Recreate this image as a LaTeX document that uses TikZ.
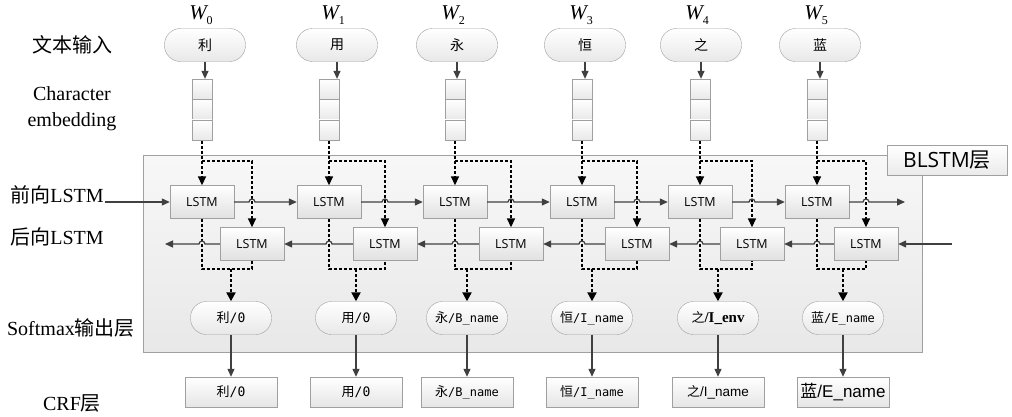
\documentclass[tikz,border=0pt]{standalone}
\usepackage{fontspec}
\setmainfont{Liberation Serif}
\newfontfamily\cjk{Noto Sans CJK SC}
\newfontfamily\osans{Open Sans}
\newfontfamily\dmono{DejaVu Sans Mono}
\newfontfamily\arialf{Liberation Sans}
\usetikzlibrary{arrows.meta,calc}
\definecolor{boxgray}{HTML}{A0A0A0}
\definecolor{arrgray}{HTML}{404040}
\begin{document}
\begin{tikzpicture}[x=1pt,y=-1pt,
  lstmbox/.style={draw=boxgray, top color=white, bottom color=black!12, minimum width=64pt, minimum height=33pt, inner sep=0pt, font=\osans\fontsize{12.5}{12.5}\selectfont},
  crfbox/.style={draw=boxgray, top color=white, bottom color=black!10, minimum width=92pt, minimum height=30pt, inner sep=0pt},
  oval/.style={draw=boxgray, top color=white, bottom color=black!9, minimum width=81pt, minimum height=33pt, rounded corners=16pt, inner sep=0pt},
  cell/.style={draw=boxgray, top color=white, bottom color=black!9, minimum width=20pt, minimum height=20.5pt, inner sep=0pt},
  labbox/.style={draw=boxgray, top color=white, bottom color=black!8, minimum width=120pt, minimum height=30pt, inner sep=0pt, font=\osans\fontsize{21}{21}\selectfont},
  sidelab/.style={font=\fontsize{20}{26}\selectfont, align=center, inner sep=0pt},
  arr/.style={draw=arrgray, line width=1.2pt, -{Triangle[length=8pt,width=7pt]}},
  dashl/.style={draw=black, line width=1.6pt, dash pattern=on 3pt off 2pt},
  dasharr/.style={dashl, -{Triangle[length=9pt,width=8pt]}},
  mergearr/.style={dashl, line width=2.2pt, -{Triangle[length=9pt,width=9pt]}},
  inlab/.style={font=\cjk\fontsize{14}{14}\selectfont},
  mlab/.style={font=\fontsize{13}{13}\selectfont}
]
\useasboundingbox (0,0) rectangle (1012,416);

% BLSTM layer background
\path[draw=boxgray, top color=black!3, bottom color=black!9] (143,155) rectangle (922,352);
\node[labbox] (blstm) at (947,160) {BLSTM{\cjk 层}};

% side labels
\node[sidelab] (l1) at (72,45) {{\cjk 文本输入}};
\node[sidelab] (l2) at (72,109) {Character\\embedding};
\node[sidelab] (l3) at (57,195) {{\cjk 前向}LSTM};
\node[sidelab] (l4) at (57,237) {{\cjk 后向}LSTM};
\node[sidelab] (l5) at (71,328) {Softmax{\cjk 输出层}};
\node[sidelab] (l6) at (72,403) {CRF{\cjk 层}};

% columns
\foreach \i/\fx/\bx/\ox in {0/202/252/205, 1/329/385/337, 2/455/511/457, 3/582/637/585, 4/700/752/701, 5/817/866/820}{
  \node[lstmbox] (f\i) at (\fx,202) {LSTM};
  \node[lstmbox] (b\i) at (\bx,244) {LSTM};
  \node[cell] (ea\i) at (\fx,89.3) {};
  \node[cell] (eb\i) at (\fx,109.7) {};
  \node[cell] (ec\i) at (\fx,130.1) {};
  \node[inner sep=0pt] (w\i) at (\ox-4,15) {\fontsize{21}{21}\selectfont\itshape W\raisebox{-5pt}{\fontsize{12}{12}\selectfont\upshape\i}};
}

% input ovals
\node[oval,inlab] (in0) at (205,45) {利};
\node[oval,inlab] (in1) at (337,45) {用};
\node[oval,inlab] (in2) at (457,45) {永};
\node[oval,inlab] (in3) at (585,45) {恒};
\node[oval,inlab] (in4) at (701,45) {之};
\node[oval,inlab] (in5) at (820,45) {蓝};

% softmax ovals
\node[oval,mlab] (s0) at (231,318) {{\cjk 利}{\dmono/0}};
\node[oval,mlab] (s1) at (356,318) {{\cjk 用}{\dmono/0}};
\node[oval,mlab] (s2) at (467,318) {{\cjk 永}{\dmono\fontsize{12}{12}\selectfont/B\_name}};
\node[oval,mlab] (s3) at (592,318) {{\cjk 恒}{\dmono\fontsize{12}{12}\selectfont/I\_name}};
\node[oval,mlab] (s4) at (718,318) {{\cjk 之}{\fontsize{15}{15}\selectfont\bfseries/I\_env}};
\node[oval,mlab] (s5) at (843,318) {{\cjk 蓝}{\dmono\fontsize{12}{12}\selectfont/E\_name}};

% CRF boxes
\node[crfbox,mlab] (c0) at (231,392) {{\cjk 利}{\dmono/0}};
\node[crfbox,mlab] (c1) at (356,392) {{\cjk 用}{\dmono/0}};
\node[crfbox,mlab] (c2) at (467,392) {{\cjk 永}{\dmono\fontsize{12}{12}\selectfont/B\_name}};
\node[crfbox,mlab] (c3) at (592,392) {{\cjk 恒}{\dmono\fontsize{12}{12}\selectfont/I\_name}};
\node[crfbox,mlab] (c4) at (718,392) {{\cjk 之}{\arialf\fontsize{13.5}{13.5}\selectfont/I\_name}};
\node[crfbox] (c5) at (843,392) {\fontsize{17}{17}\selectfont{\cjk 蓝}{\arialf/E\_name}};

% vertical connectors
\foreach \i/\fx/\mx in {0/202/231, 1/329/356, 2/455/467, 3/582/592, 4/700/718, 5/817/843}{
  \draw[arr] (in\i.south) -- (in\i.south |- ea\i.north);
  \coordinate (j\i) at (\fx,161);
  \coordinate (m\i) at (\mx,269);
  \draw[dashl] (ec\i.south) -- (j\i);
  \draw[dasharr] (j\i) -- (f\i.north);
  \draw[dasharr] (j\i) -| (b\i.north);
  \draw[dashl] (f\i.south) |- (b\i.south |- m\i) -- (b\i.south);
  \draw[mergearr] (m\i) -- (s\i.north);
  \draw[arr] (s\i.south) -- (s\i.south |- c\i.north);
}

% horizontal recurrent connectors
\coordinate (fin) at (105,202);
\coordinate (fout) at (905,202);
\coordinate (bin) at (952,244);
\coordinate (bout) at (165,244);
\draw[arr] (fin) -- (f0.west);
\foreach \i/\j in {0/1,1/2,2/3,3/4,4/5}{
  \draw[arr] (f\i.east) -- ($(b\i.north |- f\i.east)+(-3,0)$) arc[start angle=180,end angle=0,radius=3pt] -- (f\j.west);
  \draw[arr] (b\j.west) -- ($(f\j.south |- b\j.west)+(3,0)$) arc[start angle=0,end angle=180,radius=3pt] -- (b\i.east);
}
\draw[arr] (f5.east) -- ($(b5.north |- f5.east)+(-3,0)$) arc[start angle=180,end angle=0,radius=3pt] -- (fout);
\draw[arr] (bin) -- (b5.east);
\draw[arr] (b0.west) -- ($(f0.south |- b0.west)+(3,0)$) arc[start angle=0,end angle=180,radius=3pt] -- (bout);
\end{tikzpicture}
\end{document}
